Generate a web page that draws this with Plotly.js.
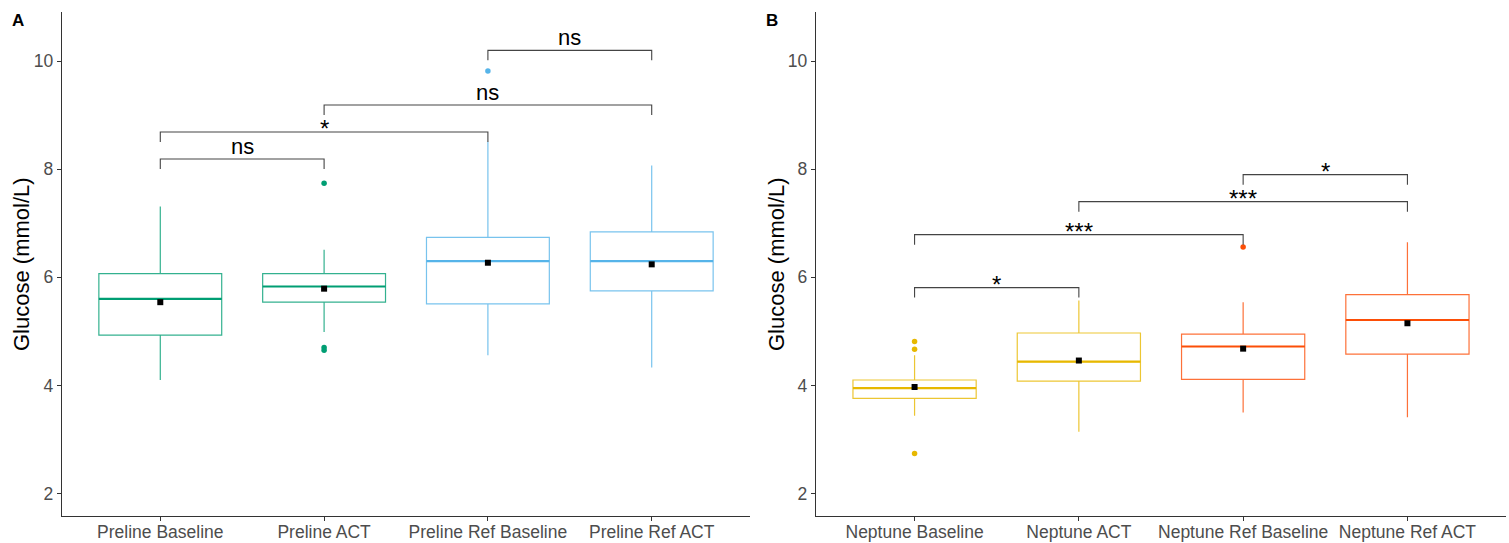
<!DOCTYPE html>
<html>
<head>
<meta charset="utf-8">
<script src="https://cdn.plot.ly/plotly-3.0.1.min.js"></script>
<style>
  html, body { margin: 0; padding: 0; background: #fff; }
  #chart { width: 1509px; height: 543px; }
</style>
</head>
<body>
<div id="chart"></div>
<script>
// ---------- Data ----------
const prelineCats = ['Preline Baseline', 'Preline ACT', 'Preline Ref Baseline', 'Preline Ref ACT'];
const prelineQ1 = [4.93, 5.54, 5.51, 5.75];
const prelineMedian = [5.60, 5.83, 6.30, 6.30];
const prelineQ3 = [6.07, 6.07, 6.74, 6.84];
const prelineLower = [4.10, 4.99, 4.56, 4.33];
const prelineUpper = [7.31, 6.51, 8.51, 8.07];
const prelineMean = [5.54, 5.79, 6.27, 6.24];
const prelineOutlierGroup = [1, 1, 1, 2];
const prelineOutlierValue = [7.74, 4.70, 4.65, 9.82];
const prelineColors = ['#009E73', '#009E73', '#56B4E9', '#56B4E9'];
const prelinePairs = [[0, 1], [0, 2], [1, 3], [2, 3]];
const prelineBracketY = [8.19, 8.69, 9.19, 10.20];
const prelineSig = ['ns', '*', 'ns', 'ns'];

const neptuneCats = ['Neptune Baseline', 'Neptune ACT', 'Neptune Ref Baseline', 'Neptune Ref ACT'];
const neptuneQ1 = [3.76, 4.08, 4.11, 4.58];
const neptuneMedian = [3.95, 4.44, 4.72, 5.21];
const neptuneQ3 = [4.10, 4.97, 4.95, 5.68];
const neptuneLower = [3.44, 3.14, 3.50, 3.41];
const neptuneUpper = [4.56, 5.57, 5.54, 6.65];
const neptuneMean = [3.97, 4.46, 4.68, 5.15];
const neptuneOutlierGroup = [0, 0, 0, 2];
const neptuneOutlierValue = [4.81, 4.67, 2.74, 6.56];
const neptuneColors = ['#E7B800', '#E7B800', '#FC4E07', '#FC4E07'];
const neptunePairs = [[0, 1], [0, 2], [1, 3], [2, 3]];
const neptuneBracketY = [5.81, 6.79, 7.40, 7.90];
const neptuneSig = ['*', '***', '***', '*'];

const yTicks = [2, 4, 6, 8, 10];
const yTitle = 'Glucose (mmol/L)';

// ---------- Builders ----------
const FONT = 'Liberation Sans, Arial, Helvetica, sans-serif';
const BOXW = 0.75;
const TIP = 0.185;

function hexA(hex, a) {
  const r = parseInt(hex.slice(1, 3), 16), g = parseInt(hex.slice(3, 5), 16), b = parseInt(hex.slice(5, 7), 16);
  return `rgba(${r},${g},${b},${a})`;
}

function panel(xa, ya, cats, q1, med, q3, lo, up, mean, og, ov, colors, pairs, by, sig) {
  const traces = [];
  const annots = [];
  cats.forEach((c, i) => {
    traces.push({
      type: 'box', x: [i], q1: [q1[i]], median: [med[i]], q3: [q3[i]],
      lowerfence: [lo[i]], upperfence: [up[i]], width: BOXW, whiskerwidth: 0,
      xaxis: xa, yaxis: ya, boxpoints: false,
      line: { color: hexA(colors[i], 0.8), width: 1.2 },
      fillcolor: 'rgba(255,255,255,0)', showlegend: false, hoverinfo: 'skip'
    });
    traces.push({
      type: 'scatter', mode: 'lines', x: [i - BOXW / 2, i + BOXW / 2], y: [med[i], med[i]],
      xaxis: xa, yaxis: ya, line: { color: colors[i], width: 2.2 }, showlegend: false, hoverinfo: 'skip'
    });
  });
  // outliers
  traces.push({
    type: 'scatter', mode: 'markers', x: og, y: ov, xaxis: xa, yaxis: ya,
    marker: { color: og.map(g => colors[g]), size: 5.5 }, showlegend: false, hoverinfo: 'skip'
  });
  // means
  traces.push({
    type: 'scatter', mode: 'markers', x: cats.map((c, i) => i), y: mean, xaxis: xa, yaxis: ya,
    marker: { color: '#000', size: 6, symbol: 'square' }, showlegend: false, hoverinfo: 'skip'
  });
  // brackets
  const bx = [], byy = [];
  pairs.forEach((p, k) => {
    bx.push(p[0], p[0], p[1], p[1], null);
    byy.push(by[k] - TIP, by[k], by[k], by[k] - TIP, null);
    const isStar = sig[k].indexOf('*') >= 0;
    annots.push({
      xref: xa, yref: ya, x: (p[0] + p[1]) / 2, y: by[k], text: sig[k], showarrow: false,
      yanchor: 'bottom', xanchor: 'center', borderpad: 0, yshift: isStar ? -11 : -1,
      font: { family: FONT, size: isStar ? 24 : 22, color: '#000' }
    });
  });
  traces.push({
    type: 'scatter', mode: 'lines', x: bx, y: byy, xaxis: xa, yaxis: ya,
    line: { color: '#444', width: 1.1 }, showlegend: false, hoverinfo: 'skip'
  });
  return { traces, annots };
}

const L = panel('x', 'y', prelineCats, prelineQ1, prelineMedian, prelineQ3, prelineLower, prelineUpper,
  prelineMean, prelineOutlierGroup, prelineOutlierValue, prelineColors, prelinePairs, prelineBracketY, prelineSig);
const R = panel('x2', 'y2', neptuneCats, neptuneQ1, neptuneMedian, neptuneQ3, neptuneLower, neptuneUpper,
  neptuneMean, neptuneOutlierGroup, neptuneOutlierValue, neptuneColors, neptunePairs, neptuneBracketY, neptuneSig);

const W = 1509, H = 543;
const yDom = [(H - 516) / H, (H - 12) / H];

function xAxis(cats, dom, anchor) {
  return {
    domain: dom, anchor: anchor, range: [-0.6, 3.6], tickmode: 'array',
    tickvals: cats.map((c, i) => i), ticktext: cats,
    showgrid: false, zeroline: false, showline: true, linecolor: '#333', linewidth: 1.2,
    ticks: 'outside', ticklen: 4, tickcolor: '#333', tickwidth: 1, ticklabelstandoff: -4,
    tickfont: { family: FONT, size: 17.5, color: '#4D4D4D' }, fixedrange: true
  };
}
function yAxis(dom, anchor) {
  return {
    domain: dom, anchor: anchor, range: [1.583, 10.91], tickmode: 'array', tickvals: yTicks,
    ticktext: yTicks.map(String),
    showgrid: false, zeroline: false, showline: true, linecolor: '#333', linewidth: 1.2,
    ticks: 'outside', ticklen: 4, tickcolor: '#333', tickwidth: 1,
    tickfont: { family: FONT, size: 17.5, color: '#4D4D4D' },
    fixedrange: true
  };
}

const layout = {
  width: W, height: H,
  margin: { l: 0, r: 0, t: 0, b: 0 },
  paper_bgcolor: '#fff', plot_bgcolor: '#fff',
  boxmode: 'overlay', showlegend: false,
  xaxis: xAxis(prelineCats, [62 / W, 750 / W], 'y'),
  yaxis: yAxis(yDom, 'x'),
  xaxis2: xAxis(neptuneCats, [816 / W, 1506 / W], 'y2'),
  yaxis2: yAxis(yDom, 'x2'),
  annotations: L.annots.concat(R.annots).concat([
    { xref: 'paper', yref: 'paper', x: 10 / W, y: (H - 20) / H, xanchor: 'left', yanchor: 'middle',
      text: '<b>A</b>', showarrow: false, font: { family: FONT, size: 17, color: '#000' } },
    { xref: 'paper', yref: 'paper', x: 764 / W, y: (H - 20) / H, xanchor: 'left', yanchor: 'middle',
      text: '<b>B</b>', showarrow: false, font: { family: FONT, size: 17, color: '#000' } },
    { xref: 'paper', yref: 'paper', x: 21 / W, y: (H - 264) / H, xanchor: 'center', yanchor: 'middle',
      textangle: -90, text: yTitle, showarrow: false, font: { family: FONT, size: 22, color: '#000' } },
    { xref: 'paper', yref: 'paper', x: 776 / W, y: (H - 264) / H, xanchor: 'center', yanchor: 'middle',
      textangle: -90, text: yTitle, showarrow: false, font: { family: FONT, size: 22, color: '#000' } }
  ])
};

Plotly.newPlot('chart', L.traces.concat(R.traces), layout, { displayModeBar: false, staticPlot: true });
</script>
</body>
</html>
